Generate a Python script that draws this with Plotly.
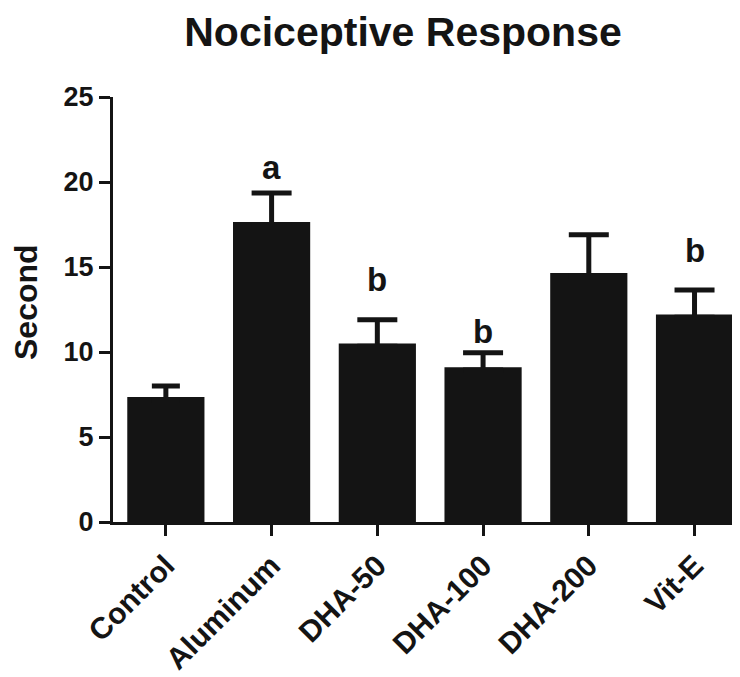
import plotly.graph_objects as go

categories = ["Control", "Aluminum", "DHA-50", "DHA-100", "DHA-200", "Vit-E"]
means = [7.35, 17.65, 10.5, 9.1, 14.65, 12.2]
sem_upper = [0.65, 1.7, 1.4, 0.85, 2.25, 1.45]
sig_letters = ["", "a", "b", "b", "", "b"]
letter_shift = [0, 9, 24, 5, 0, 23]
cap_half_width = [14, 20, 20, 20, 20, 20]
y_ticks = [0, 5, 10, 15, 20, 25]

FONT = "Arial, 'Liberation Sans', sans-serif"
BLACK = "#141414"

# page body has an 8px default margin; compensate so the chart lands where the reference is
OFF = 8
# half of error-bar stroke in data units, so the lower "shoe" hides inside the bar
shoe_hide = 0.16

fig = go.Figure()
for w in sorted(set(cap_half_width)):
    idx = [i for i, c in enumerate(cap_half_width) if c == w]
    fig.add_trace(go.Bar(
        x=[categories[i] for i in idx],
        y=[means[i] for i in idx],
        width=0.73,
        marker=dict(color=BLACK, line=dict(width=0)),
        error_y=dict(
            type="data",
            symmetric=False,
            array=[sem_upper[i] for i in idx],
            arrayminus=[shoe_hide] * len(idx),
            color=BLACK,
            thickness=5,
            width=w,
        ),
        showlegend=False,
    ))

for cat, m, e, lab, sh in zip(categories, means, sem_upper, sig_letters, letter_shift):
    if lab:
        fig.add_annotation(
            x=cat, y=m + e, text=lab, showarrow=False,
            yanchor="bottom", yshift=sh - 4,
            font=dict(family=FONT, size=33, color=BLACK, weight="bold"),
        )

# y-axis title placed as rotated annotation (slightly above plot centre, as in reference)
fig.add_annotation(
    text="Second", textangle=-90, showarrow=False,
    xref="paper", yref="paper", x=0, y=(522 - 302) / 425,
    xanchor="center", yanchor="middle", xshift=-87,
    font=dict(family=FONT, size=32, color=BLACK, weight="bold"),
)

fig.update_layout(
    width=740, height=677,
    margin=dict(l=113 - OFF, r=OFF, t=97 - OFF, b=155 + OFF),
    paper_bgcolor="white", plot_bgcolor="white",
    barmode="overlay",
    title=dict(
        text="Nociceptive Response",
        x=(403 - 113) / 627, xref="paper", xanchor="center",
        y=1 - 9 / 677, yref="container", yanchor="top",
        font=dict(family=FONT, size=41, color=BLACK, weight="bold"),
    ),
)

fig.update_xaxes(
    categoryorder="array", categoryarray=categories,
    range=[-0.5, 5.43], automargin=False,
    showline=True, linecolor=BLACK, linewidth=3,
    ticks="outside", ticklen=11, tickwidth=3, tickcolor=BLACK,
    tickangle=-45,
    tickfont=dict(family=FONT, size=30, color=BLACK, weight="bold"),
    showgrid=False, zeroline=False,
)
fig.update_yaxes(
    range=[0, 25], automargin=False,
    tickvals=y_ticks,
    showline=True, linecolor=BLACK, linewidth=3,
    ticks="outside", ticklen=11, tickwidth=3, tickcolor=BLACK,
    tickfont=dict(family=FONT, size=27, color=BLACK, weight="bold"),
    showgrid=False, zeroline=False,
)

fig.write_html("out.html")
